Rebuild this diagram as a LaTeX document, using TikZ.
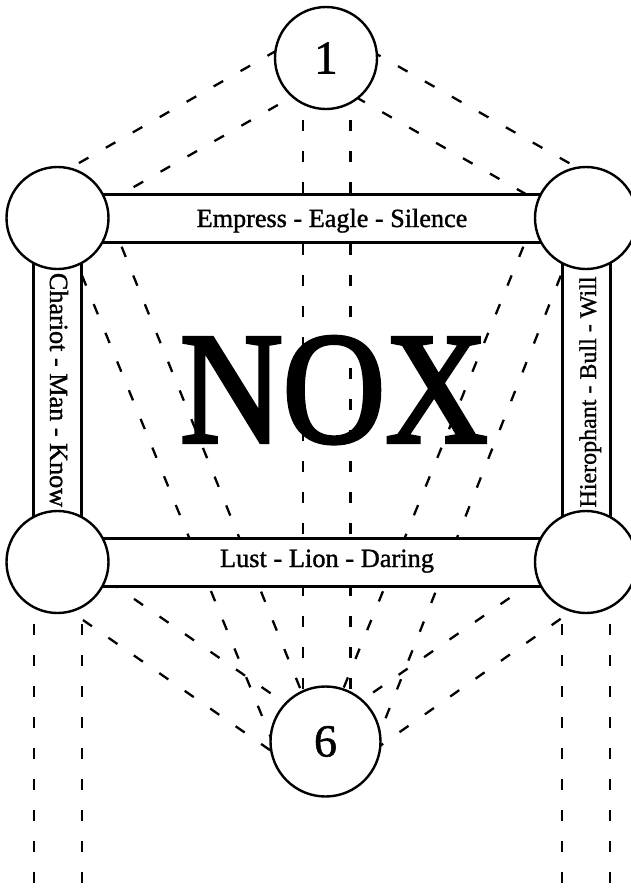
\documentclass[tikz,border=0pt]{standalone}
\usepackage{fontspec}
\setmainfont{Liberation Serif}
\newfontfamily\heavy[FakeBold=1.2]{Liberation Serif}
\newfontfamily\heavier[FakeBold=2.6]{Liberation Serif}
\usetikzlibrary{calc}
\pgfdeclarelayer{lines}
\pgfdeclarelayer{bars}
\pgfsetlayers{lines,bars,main}
\begin{document}
\begin{tikzpicture}[x=1pt,y=-1pt,
  seph/.style={circle,draw,fill=white,line width=2.4pt,inner sep=0pt,minimum size=102pt},
  band/.style={draw,fill=white,line width=3pt},
  hid/.style={line width=2.3pt,dash pattern=on 11pt off 20pt},
  lbl/.style={inner sep=0pt,anchor=base,font=\heavy}]
\useasboundingbox (0,0) rectangle (631,889);
\clip (0,0) rectangle (631,889);

% sephiroth
\node[seph] (k1) at (326,58) {\heavy\fontsize{47}{47}\selectfont 1};
\node[seph] (tl) at (57.5,218) {};
\node[seph] (tr) at (586,218) {};
\node[seph] (bl) at (57.5,562) {};
\node[seph] (br) at (586,562) {};
\node[seph,minimum size=110pt] (t6) at (325.5,741.5) {\heavy\fontsize{46}{46}\selectfont 6};

% solid paths
\begin{pgfonlayer}{bars}
\draw[band] ($(tl)+(0,-24)$) rectangle ($(tr)+(0,24)$);
\draw[band] ($(bl)+(0,-24)$) rectangle ($(br)+(0,24)$);
\draw[band] ($(tl)+(-24,0)$) rectangle ($(bl)+(24,0)$);
\draw[band] ($(tr)+(-24,0)$) rectangle ($(br)+(24,0)$);
\end{pgfonlayer}

% dashed paths
\coordinate (kTLo1) at (304,35);   \coordinate (kTLo2) at (43,183.5);
\coordinate (kTLi1) at (304.8,89.6); \coordinate (kTLi2) at (74.4,220.8);
\coordinate (kTRo1) at (344,35.6); \coordinate (kTRo2) at (603.6,182.6);
\coordinate (kTRi1) at (328.4,81.4); \coordinate (kTRi2) at (573,221);
\coordinate (k6l1) at (303,58);    \coordinate (k6l2) at (303,742);
\coordinate (k6r1) at (350.5,58);  \coordinate (k6r2) at (350.5,742);
\coordinate (tl6l1) at (58.5,218); \coordinate (tl6l2) at (280,760);
\coordinate (tl6r1) at (110,218);  \coordinate (tl6r2) at (317,730);
\coordinate (tr6l1) at (535,218);  \coordinate (tr6l2) at (321.6,742);
\coordinate (tr6r1) at (583.6,218); \coordinate (tr6r2) at (373,750);
\coordinate (bl6u1) at (57.5,546); \coordinate (bl6u2) at (300,713.6);
\coordinate (bl6d1) at (57.5,602.3); \coordinate (bl6d2) at (300,771);
\coordinate (br6u1) at (586,545);  \coordinate (br6u2) at (350,708.5);
\coordinate (br6d1) at (586,601);  \coordinate (br6d2) at (350,767);
\coordinate (bll1) at (34,562);    \coordinate (bll2) at (34,892);
\coordinate (blr1) at (82,562);    \coordinate (blr2) at (82,892);
\coordinate (brl1) at (562,562);   \coordinate (brl2) at (562,892);
\coordinate (brr1) at (610,562);   \coordinate (brr2) at (610,892);
\begin{pgfonlayer}{lines}
\draw[hid] (kTLo1) -- (kTLo2);
\draw[hid] (kTLi1) -- (kTLi2);
\draw[hid] (kTRo1) -- (kTRo2);
\draw[hid] (kTRi1) -- (kTRi2);
\draw[hid] (k6l1) -- (k6l2);
\draw[hid] (k6r1) -- (k6r2);
\draw[hid] (tl6l1) -- (tl6l2);
\draw[hid] (tl6r1) -- (tl6r2);
\draw[hid] (tr6l1) -- (tr6l2);
\draw[hid] (tr6r1) -- (tr6r2);
\draw[hid] (bl6u1) -- (bl6u2);
\draw[hid] (bl6d1) -- (bl6d2);
\draw[hid] (br6u1) -- (br6u2);
\draw[hid] (br6d1) -- (br6d2);
\draw[hid] (bll1) -- (bll2);
\draw[hid] (blr1) -- (blr2);
\draw[hid] (brl1) -- (brl2);
\draw[hid] (brr1) -- (brr2);
\end{pgfonlayer}

% labels
\node[lbl] (lemp) at (332,227) {\fontsize{26.2}{30}\selectfont Empress - Eagle - Silence};
\node[lbl] (llus) at (327,567) {\fontsize{26.4}{30}\selectfont Lust - Lion - Daring};
\node[lbl,rotate=-90] (lcha) at (50,390) {\fontsize{26.2}{30}\selectfont Chariot - Man - Know};
\node[lbl,rotate=90] (lhie) at (596,392) {\fontsize{24}{30}\selectfont Hierophant - Bull - Will};
\node[lbl,font=\heavier] (nox) at (334,442) {\scalebox{1}[1.12]{\fontsize{142}{142}\selectfont NOX}};
\end{tikzpicture}
\end{document}
